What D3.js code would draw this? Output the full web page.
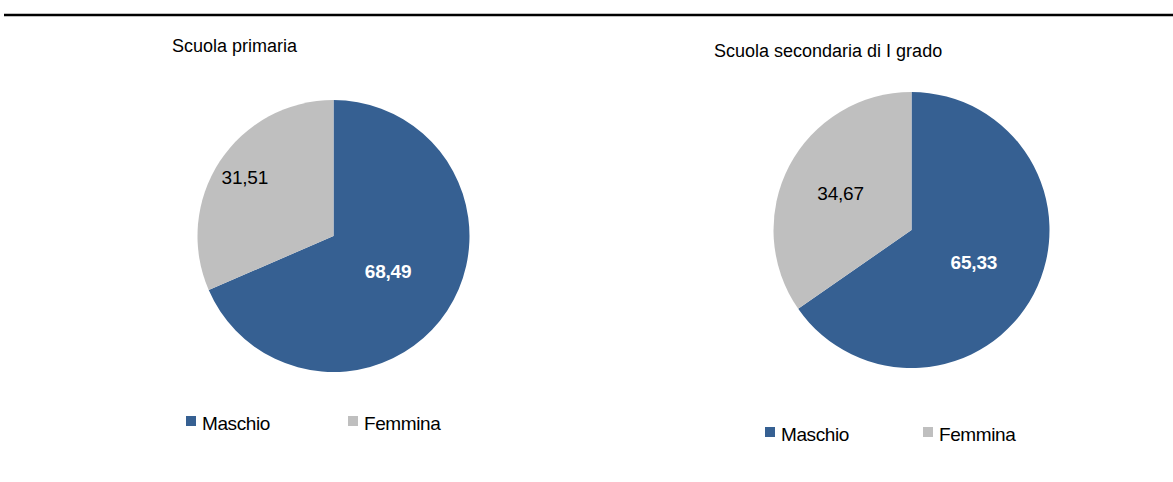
<!DOCTYPE html>
<html>
<head>
<meta charset="utf-8">
<style>
  body { margin: 0; background: #fff; }
  svg text { font-family: "Liberation Sans", Arial, sans-serif; }
</style>
</head>
<body>
<script src="https://cdn.jsdelivr.net/npm/d3@7/dist/d3.min.js"></script>
<script>
// data
var categories = ["Maschio", "Femmina"];
var titles = ["Scuola primaria", "Scuola secondaria di I grado"];
var primaria = [68.49, 31.51];
var secondaria = [65.33, 34.67];

var colors = ["#366092", "#BFBFBF"];
var labelColors = ["#fff", "#000"];

var width = 1173, height = 482;

var svg = d3.select("body").append("svg")
    .attr("width", width)
    .attr("height", height);

// top rule
svg.append("line")
    .attr("x1", 4).attr("x2", width)
    .attr("y1", 15).attr("y2", 15)
    .attr("stroke", "#000").attr("stroke-width", 2.5);

var fmt = function(v) { return d3.format(".2f")(v).replace(".", ","); };

var pie = d3.pie().sort(null).value(function(d) { return d; });

var panels = [
    {values: primaria, title: titles[0], cx: 333.5, cy: 236, r: 136,
     tx: 172, ty: 52, lr: [0.48, 0.78], lx: 186, ly: 422, lgap: 162},
    {values: secondaria, title: titles[1], cx: 911.5, cy: 230, r: 138,
     tx: 714, ty: 57, lr: [0.51, 0.58], lx: 765, ly: 433, lgap: 158}
];

panels.forEach(function(p) {
    svg.append("text")
        .attr("x", p.tx).attr("y", p.ty)
        .style("font-size", "18px")
        .attr("fill", "#000")
        .text(p.title);

    var g = svg.append("g")
        .attr("transform", "translate(" + p.cx + "," + p.cy + ")");

    var arc = d3.arc().innerRadius(0).outerRadius(p.r);
    var arcs = pie(p.values);

    g.selectAll("path")
        .data(arcs)
        .enter().append("path")
        .attr("d", arc)
        .attr("fill", function(d, i) { return colors[i]; });

    g.selectAll("text")
        .data(arcs)
        .enter().append("text")
        .attr("transform", function(d, i) {
            var a = (d.startAngle + d.endAngle) / 2;
            var rr = p.r * p.lr[i];
            return "translate(" + (Math.sin(a) * rr) + "," + (-Math.cos(a) * rr) + ")";
        })
        .attr("text-anchor", "middle")
        .attr("dy", "0.35em")
        .style("font-size", "19px")
        .style("letter-spacing", "-0.2px")
        .style("font-weight", function(d, i) { return i === 0 ? "bold" : "normal"; })
        .attr("fill", function(d, i) { return labelColors[i]; })
        .text(function(d) { return fmt(d.data); });

    // legend
    var lg = svg.append("g")
        .attr("transform", "translate(" + p.lx + "," + p.ly + ")");
    categories.forEach(function(c, i) {
        lg.append("rect")
            .attr("x", i * p.lgap).attr("y", -6)
            .attr("width", 10).attr("height", 10)
            .attr("fill", colors[i]);
        lg.append("text")
            .attr("x", i * p.lgap + 16).attr("y", 8)
            .style("font-size", "19px")
            .style("letter-spacing", "-0.4px")
            .attr("fill", "#000")
            .text(c);
    });
});
</script>
</body>
</html>
